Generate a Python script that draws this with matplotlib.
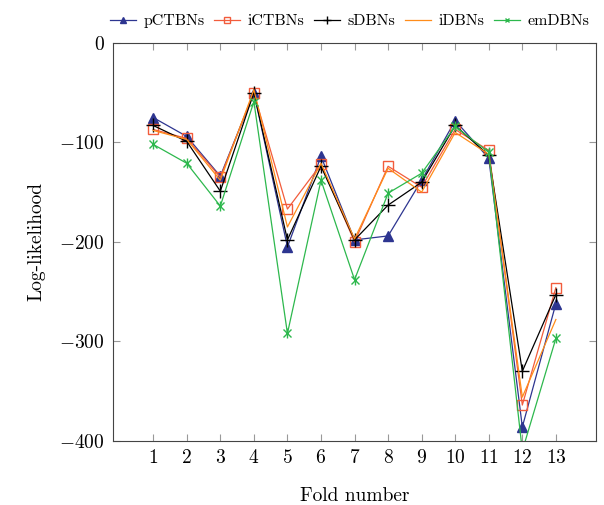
import matplotlib
matplotlib.use("Agg")
import matplotlib.pyplot as plt

folds = list(range(1, 14))
pCTBNs = [-75, -94, -134, -50, -205, -114, -198, -194, -138, -78, -116, -386, -262]
iCTBNs = [-87, -96, -135, -50, -167, -122, -200, -124, -145, -87, -108, -364, -246]
sDBNs = [-83, -99, -149, -50, -198, -124, -198, -163, -140, -83, -113, -330, -253]
iDBNs = [-88, -97, -138, -47, -185, -121, -197, -126, -150, -90, -112, -356, -278]
emDBNs = [-102, -121, -164, -59, -292, -138, -238, -151, -131, -84, -110, -410, -297]

plt.rcParams['font.family'] = 'serif'
plt.rcParams['font.serif'] = ['cmr10', 'DejaVu Serif']
plt.rcParams['mathtext.fontset'] = 'cm'
plt.rcParams['axes.formatter.use_mathtext'] = True

fig = plt.figure(figsize=(6.04, 5.05), dpi=100)
ax = fig.add_axes([0.187, 0.127, 0.800, 0.788])

ax.plot(folds, pCTBNs, color='#2d3590', marker='^', markersize=7, lw=0.9, label='pCTBNs')
ax.plot(folds, iCTBNs, color='#f25c3c', marker='s', markersize=7.5, mfc='none', lw=0.9, label='iCTBNs')
ax.plot(folds, sDBNs, color='black', marker='+', markersize=10, lw=0.9, label='sDBNs')
ax.plot(folds, iDBNs, color='#ff8c1a', lw=0.9, label='iDBNs')
ax.plot(folds, emDBNs, color='#2db84d', marker='x', markersize=6, lw=0.9, label='emDBNs')
ax.plot(folds, emDBNs, color='#2db84d', marker='|', markersize=7, lw=0)

ax.set_xlim(-0.2, 14.2)
ax.set_ylim(-400, 0)
ax.set_xticks(folds)
ax.set_yticks([0, -100, -200, -300, -400])
ax.tick_params(direction='in', top=True, right=True, length=5, color='#999999', labelsize=14, pad=6)
for s in ax.spines.values():
    s.set_color('#444444')
ax.set_xlabel('Fold number', fontsize=14, labelpad=14)
ax.set_ylabel('Log-likelihood', fontsize=14, labelpad=10)

leg = ax.legend(loc='lower center', bbox_to_anchor=(0.49, 1.025), ncol=5, frameon=False,
                fontsize=11.5, handlelength=1.6, columnspacing=0.6, handletextpad=0.5,
                markerscale=0.6, borderaxespad=0.2, borderpad=0.1)

fig.savefig('out.png', dpi=100)
